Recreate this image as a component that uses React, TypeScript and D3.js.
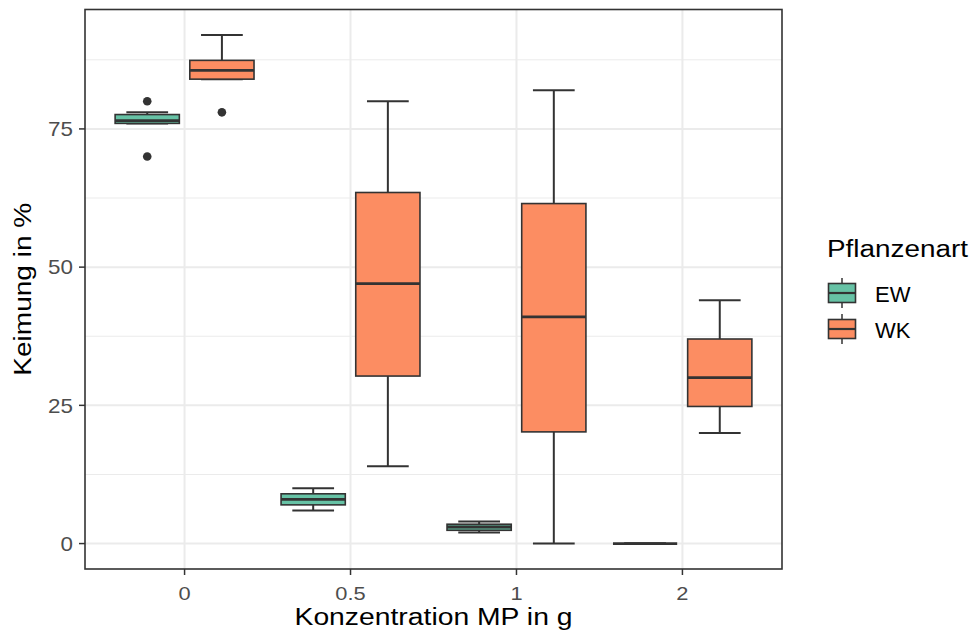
import React from "react";
import * as d3 from "d3";

const categories = ["0", "0.5", "1", "2"];
const groups = ["EW", "WK"];
const groupColors = ["#66C2A5", "#FC8D62"];

const ewLower = [76, 6, 2, 0];
const ewQ1 = [76, 7, 2.4, 0];
const ewMedian = [76.5, 8, 3, 0];
const ewQ3 = [77.6, 9, 3.5, 0];
const ewUpper = [78, 10, 4, 0];
const ewOutliers = [[80, 70], [], [], []];

const wkLower = [84, 14, 0, 20];
const wkQ1 = [84, 30.3, 20.2, 24.8];
const wkMedian = [85.6, 47, 41, 30];
const wkQ3 = [87.4, 63.5, 61.5, 37];
const wkUpper = [92, 80, 82, 44];
const wkOutliers = [[78], [], [], []];

const yTicks = [0, 25, 50, 75];
const yMinor = [12.5, 37.5, 62.5, 87.5];

const W = 973, H = 637;
const panel = { left: 85, right: 782, top: 9.5, bottom: 569 };
const FONT = "Liberation Sans, Arial, Helvetica, sans-serif";

export default function App() {
  const x = d3.scalePoint<string>().domain(categories)
    .range([panel.left, panel.right]).padding(0.6);
  const cx = (c: string) => x(c) as number;
  const unit = x.step();
  const y = d3.scaleLinear().domain([-4.6, 96.6]).range([panel.bottom, panel.top]);

  const stats = groups.map((g, gi) => {
    const src = gi === 0
      ? [ewLower, ewQ1, ewMedian, ewQ3, ewUpper, ewOutliers]
      : [wkLower, wkQ1, wkMedian, wkQ3, wkUpper, wkOutliers];
    return categories.map((c, i) => ({
      cat: c, group: g, gi,
      lower: (src[0] as number[])[i], q1: (src[1] as number[])[i],
      med: (src[2] as number[])[i], q3: (src[3] as number[])[i],
      upper: (src[4] as number[])[i], out: (src[5] as number[][])[i],
    }));
  }).flat();

  const dodge = 0.225 * unit;
  const boxW = 0.45 * unit * 0.86;
  const capW = boxW * 0.65;
  const dark = "#333333";

  return (
    <svg width={W} height={H} style={{ position: "absolute", left: 0, top: 0, background: "#fff" }}>
      <rect x={0} y={0} width={W} height={H} fill="#fff" />
      {/* grid */}
      {yMinor.map(v => (
        <line key={"mn" + v} x1={panel.left} x2={panel.right} y1={y(v)} y2={y(v)} stroke="#EBEBEB" strokeWidth={1} />
      ))}
      {yTicks.map(v => (
        <line key={"mj" + v} x1={panel.left} x2={panel.right} y1={y(v)} y2={y(v)} stroke="#EBEBEB" strokeWidth={2} />
      ))}
      {categories.map(c => (
        <line key={"vx" + c} x1={cx(c)} x2={cx(c)} y1={panel.top} y2={panel.bottom} stroke="#EBEBEB" strokeWidth={2} />
      ))}
      {/* boxes */}
      {stats.map((s, i) => {
        const xc = cx(s.cat) + (s.gi === 0 ? -dodge : dodge);
        return (
          <g key={"b" + i}>
            <line x1={xc} x2={xc} y1={y(s.upper)} y2={y(s.q3)} stroke={dark} strokeWidth={2} />
            <line x1={xc} x2={xc} y1={y(s.q1)} y2={y(s.lower)} stroke={dark} strokeWidth={2} />
            <line x1={xc - capW / 2} x2={xc + capW / 2} y1={y(s.upper)} y2={y(s.upper)} stroke={dark} strokeWidth={2} />
            <line x1={xc - capW / 2} x2={xc + capW / 2} y1={y(s.lower)} y2={y(s.lower)} stroke={dark} strokeWidth={2} />
            <rect x={xc - boxW / 2} y={y(s.q3)} width={boxW} height={Math.max(0, y(s.q1) - y(s.q3))}
              fill={groupColors[s.gi]} stroke={dark} strokeWidth={1.6} />
            <line x1={xc - boxW / 2} x2={xc + boxW / 2} y1={y(s.med)} y2={y(s.med)} stroke={dark} strokeWidth={2.8} />
            {s.out.map((o, k) => (
              <circle key={k} cx={xc} cy={y(o)} r={4.3} fill={dark} />
            ))}
          </g>
        );
      })}
      {/* panel border */}
      <rect x={panel.left} y={panel.top} width={panel.right - panel.left} height={panel.bottom - panel.top}
        fill="none" stroke={dark} strokeWidth={1.6} />
      {/* y axis */}
      {yTicks.map(v => (
        <g key={"yt" + v}>
          <line x1={panel.left - 6} x2={panel.left} y1={y(v)} y2={y(v)} stroke={dark} strokeWidth={1.5} />
          <text x={73} y={y(v)} dy="0.36em" textAnchor="end" fontFamily={FONT}
            fontSize={20} fill="#4D4D4D" transform={`translate(73, 0) scale(1.12, 1) translate(-73, 0)`}>{v}</text>
        </g>
      ))}
      {categories.map(c => (
        <g key={"xt" + c}>
          <line x1={cx(c)} x2={cx(c)} y1={panel.bottom} y2={panel.bottom + 6} stroke={dark} strokeWidth={1.5} />
          <text x={0} y={600} textAnchor="middle" fontFamily={FONT}
            fontSize={19} fill="#4D4D4D" transform={`translate(${cx(c)}, 0) scale(1.15, 1)`}>{c}</text>
        </g>
      ))}
      <text x={(panel.left + panel.right) / 2} y={625} textAnchor="middle" fontFamily={FONT} fontSize={23} fill="#000"
        textLength={278} lengthAdjust="spacingAndGlyphs">Konzentration MP in g</text>
      <text transform={`translate(31, ${(panel.top + panel.bottom) / 2}) rotate(-90)`} textAnchor="middle"
        fontFamily={FONT} fontSize={23} fill="#000" textLength={173} lengthAdjust="spacingAndGlyphs">Keimung in %</text>
      {/* legend */}
      <text x={827} y={256.5} fontFamily={FONT} fontSize={23} fill="#000"
        textLength={141} lengthAdjust="spacingAndGlyphs">Pflanzenart</text>
      {groups.map((g, gi) => {
        const kc = 293 + gi * 36;
        const kx = 842;
        return (
          <g key={"lg" + g}>
            <line x1={kx} x2={kx} y1={kc - 15} y2={kc + 15} stroke={dark} strokeWidth={1.5} />
            <rect x={828.5} y={kc - 9.5} width={27} height={19} fill={groupColors[gi]} stroke={dark} strokeWidth={1.6} />
            <line x1={828.5} x2={855.5} y1={kc} y2={kc} stroke={dark} strokeWidth={2.2} />
            <text x={875} y={kc + 8.5} fontFamily={FONT} fontSize={22} fill="#000">{g}</text>
          </g>
        );
      })}
    </svg>
  );
}
